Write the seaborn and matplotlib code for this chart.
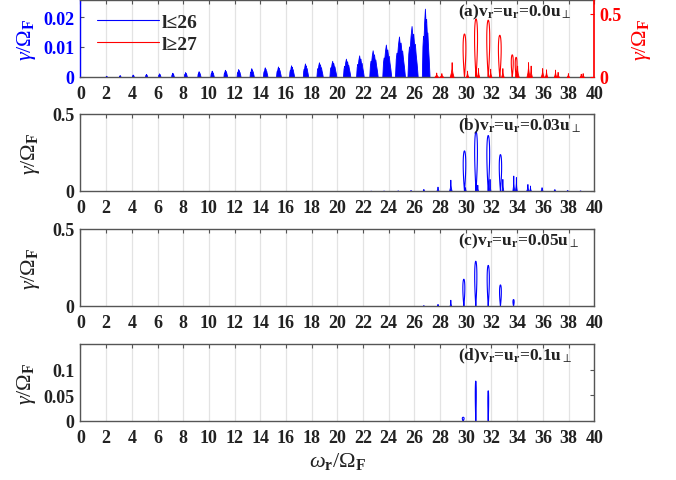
import numpy as np
import pandas as pd
import matplotlib
matplotlib.use("Agg")
import matplotlib.pyplot as plt
from matplotlib.lines import Line2D
import seaborn as sns

# ---------------- data ----------------
x_ticks = list(range(0, 41, 2))

# panel (a) blue harmonics l<=26 (left axis): peak position, peak height, cluster width
a_blue_pos = [2.0, 3.05, 4.07, 5.1, 6.12, 7.15, 8.15, 9.2, 10.22, 11.25, 12.28, 13.3,
              14.35, 15.38, 16.4, 17.48, 18.57, 19.6, 20.67, 21.7, 22.75, 23.78, 24.8, 25.78, 26.82]
a_blue_peak = [0.0004, 0.0006, 0.0008, 0.0010, 0.0012, 0.0014, 0.0016, 0.0019, 0.0021, 0.0024,
               0.0026, 0.0029, 0.0032, 0.0035, 0.0039, 0.0045, 0.0049, 0.0054, 0.0061, 0.0072,
               0.0089, 0.0108, 0.0135, 0.0170, 0.0228]
a_blue_width = [0.12, 0.14, 0.16, 0.18, 0.20, 0.22, 0.24, 0.26, 0.28, 0.30, 0.32, 0.34,
                0.36, 0.38, 0.40, 0.42, 0.50, 0.55, 0.58, 0.60, 0.66, 0.70, 0.78, 0.80, 0.60]

# panel (a) red harmonics l>=27 (right axis): loops and filled spikes
a_red_loop_pos = [29.9, 30.8, 31.75, 32.65, 33.62, 33.92]
a_red_loop_h = [0.34, 0.46, 0.45, 0.33, 0.175, 0.155]
a_red_loop_w = [0.28, 0.30, 0.30, 0.28, 0.20, 0.18]
a_red_spk_pos = [27.7, 28.1, 28.9, 30.1, 30.95, 31.9, 32.85, 34.0, 34.85, 35.05,
                 35.95, 36.25, 36.95, 37.15, 37.95, 38.95, 39.1]
a_red_spk_h = [0.035, 0.03, 0.117, 0.05, 0.07, 0.065, 0.07, 0.09, 0.117, 0.09,
               0.07, 0.06, 0.058, 0.04, 0.03, 0.025, 0.03]
a_red_spk_w = [0.3, 0.3, 0.3, 0.2, 0.2, 0.2, 0.2, 0.25, 0.25, 0.2,
               0.25, 0.2, 0.2, 0.2, 0.2, 0.2, 0.2]

# panel (b)
b_loop_pos = [29.9, 30.8, 31.75, 32.7]
b_loop_h = [0.26, 0.385, 0.36, 0.236]
b_loop_w = [0.26, 0.28, 0.28, 0.24]
b_spk_pos = [22.6, 23.6, 24.7, 25.7, 26.7, 27.8, 28.8, 29.95, 30.9, 31.85, 32.85,
             33.7, 33.9, 34.8, 35.0, 35.9, 36.9, 37.9, 38.9]
b_spk_h = [0.002, 0.003, 0.004, 0.006, 0.013, 0.028, 0.073, 0.024, 0.04, 0.078, 0.078,
           0.10, 0.09, 0.045, 0.035, 0.024, 0.012, 0.006, 0.004]
b_spk_w = [0.15, 0.15, 0.15, 0.15, 0.18, 0.2, 0.2, 0.12, 0.12, 0.15, 0.15,
           0.15, 0.15, 0.2, 0.15, 0.2, 0.2, 0.2, 0.2]

# panel (c)
c_loop_pos = [29.85, 30.78, 31.75, 32.7, 33.72]
c_loop_h = [0.173, 0.29, 0.263, 0.136, 0.041]
c_loop_w = [0.20, 0.22, 0.22, 0.18, 0.12]
c_spk_pos = [26.7, 27.8, 28.8]
c_spk_h = [0.005, 0.013, 0.04]
c_spk_w = [0.12, 0.14, 0.14]

# panel (d)
d_loop_pos = [29.8, 30.78, 31.75]
d_loop_h = [0.007, 0.078, 0.059]
d_loop_w = [0.18, 0.10, 0.08]

titles = [r"(a)v$_\mathbf{r}$=u$_\mathbf{r}$=0.0u$_\perp$",
          r"(b)v$_\mathbf{r}$=u$_\mathbf{r}$=0.03u$_\perp$",
          r"(c)v$_\mathbf{r}$=u$_\mathbf{r}$=0.05u$_\perp$",
          r"(d)v$_\mathbf{r}$=u$_\mathbf{r}$=0.1u$_\perp$"]
legend_labels = ["l≤26", "l≥27"]

# shape templates (styling of a single harmonic)
clu_dx = [0, 0.08, 0.15, 0.22, 0.30, 0.40, 0.48, 0.56, 0.64, 0.72, 0.80, 0.90, 1.0]
clu_h = [0, 0.45, 0.60, 0.55, 0.80, 1.00, 0.80, 0.85, 0.65, 0.65, 0.45, 0.25, 0]
spk_dx = [0, 0.3, 0.45, 0.5, 0.55, 0.7, 1.0]
spk_h = [0, 0.3, 0.6, 1.0, 0.6, 0.3, 0]

# ---------------- style ----------------
sns.set_theme(style="white")
plt.rcParams["font.family"] = ["Liberation Serif", "DejaVu Serif"]
plt.rcParams["mathtext.fontset"] = "custom"
plt.rcParams["mathtext.rm"] = "Liberation Serif"
plt.rcParams["mathtext.it"] = "Liberation Serif:italic"
plt.rcParams["mathtext.bf"] = "Liberation Serif:bold"

BLUE = "#0000ff"
RED = "#ff0000"
SPINE = "#555555"
TXT = "#222222"
TICK_FS = 13

fig = plt.figure(figsize=(6.76, 4.81), dpi=100)
L, W, H = 0.119, 0.760, 0.160
bottoms = [0.838, 0.601, 0.362, 0.123]
axes = [fig.add_axes([L, b, W, H]) for b in bottoms]


def loops_df(pos, h, w):
    t = np.linspace(0, 2 * np.pi, 80)
    rows = []
    for i, (c, hh, ww) in enumerate(zip(pos, h, w)):
        xs = c + 0.5 * ww * np.sin(t) * np.sqrt((1 - np.cos(t)) / 2)
        ys = hh * (1 - np.cos(t)) / 2
        rows.append(pd.DataFrame({"x": xs, "y": ys, "id": i}))
    return pd.concat(rows, ignore_index=True)


def spikes(ax, pos, h, w, dx, hf, start_frac, color):
    for c, hh, ww in zip(pos, h, w):
        xs = np.array([c - start_frac * ww + d * ww for d in dx])
        ys = np.array([hh * f for f in hf])
        ax.fill_between(xs, 0, ys, color=color, lw=0.6, edgecolor=color)


def style_axis(ax, ylim, yticks, ylabels, color=TXT):
    ax.set_xlim(0, 40)
    ax.set_ylim(*ylim)
    ax.set_xticks(x_ticks)
    ax.set_xticklabels([str(v) for v in x_ticks], fontsize=TICK_FS, fontweight="bold")
    ax.set_yticks(yticks)
    ax.set_yticklabels(ylabels, fontsize=TICK_FS, fontweight="bold")
    ax.grid(axis="x", color="#e3e3e3", lw=0.9)
    ax.grid(axis="y", visible=False)
    ax.set_axisbelow(True)
    ax.tick_params(direction="in", length=3, width=0.8, top=True, right=True,
                   colors=SPINE, pad=4.5)
    ax.tick_params(axis="x", pad=6)
    for lab in ax.get_xticklabels():
        lab.set_color(TXT)
    for lab in ax.get_yticklabels():
        lab.set_color(color)
    for s in ax.spines.values():
        s.set_color(SPINE)
        s.set_linewidth(1.0)


ylab = r"$\gamma/\Omega_\mathbf{F}$"
YLAB_FS = 16

# ---- panel (a)
ax = axes[0]
style_axis(ax, (0, 0.0257), [0, 0.01, 0.02], ["0", "0.01", "0.02"], color=BLUE)
ax.tick_params(axis="y", right=False)
spikes(ax, a_blue_pos, a_blue_peak, a_blue_width, clu_dx, clu_h, 0.40, BLUE)
ax.spines["left"].set_color(BLUE)
ax.spines["right"].set_visible(False)
ax2 = ax.twinx()
dfa = loops_df(a_red_loop_pos, a_red_loop_h, a_red_loop_w)
sns.lineplot(data=dfa, x="x", y="y", units="id", estimator=None, sort=False,
             color=RED, lw=0.8, ax=ax2)
spikes(ax2, a_red_spk_pos, a_red_spk_h, a_red_spk_w, spk_dx, spk_h, 0.5, RED)
ax2.set_xlim(0, 40)
ax2.set_ylim(0, 0.61)
ax2.set_yticks([0, 0.5])
ax2.set_yticklabels(["0", "0.5"], fontsize=TICK_FS, fontweight="bold")
ax2.tick_params(direction="in", length=3, width=0.8, colors=RED, pad=4)
for lab in ax2.get_yticklabels():
    lab.set_color(RED)
for s in ax2.spines.values():
    s.set_visible(False)
ax2.spines["right"].set_visible(True)
ax2.spines["right"].set_color(RED)
ax2.set_xlabel("")
ax.set_xlabel("")
ax.set_ylabel(ylab, fontsize=YLAB_FS, color=BLUE)
ax.yaxis.set_label_coords(-0.082, 0.5)
ax2.set_ylabel(ylab, fontsize=YLAB_FS, color=RED, rotation=90)
ax2.yaxis.set_label_coords(1.07, 0.5)
handles = [Line2D([0], [0], color=BLUE, lw=0.8), Line2D([0], [0], color=RED, lw=0.8)]
leg = ax2.legend(handles, legend_labels, loc="upper left", bbox_to_anchor=(0.005, 1.0),
                 frameon=False, prop={"weight": "bold", "size": 14}, handlelength=3.2,
                 labelspacing=0.2, handletextpad=0.15, borderaxespad=0.3)
ax2.text(0.735, 0.97, titles[0], transform=ax2.transAxes, ha="left", va="top",
         fontsize=12.5, fontweight="bold", color=TXT)

# ---- panel (b)
ax = axes[1]
style_axis(ax, (0, 0.5), [0, 0.5], ["0", "0.5"])
dfb = loops_df(b_loop_pos, b_loop_h, b_loop_w)
sns.lineplot(data=dfb, x="x", y="y", units="id", estimator=None, sort=False,
             color=BLUE, lw=0.8, ax=ax)
spikes(ax, b_spk_pos, b_spk_h, b_spk_w, spk_dx, spk_h, 0.5, BLUE)

# ---- panel (c)
ax = axes[2]
style_axis(ax, (0, 0.5), [0, 0.5], ["0", "0.5"])
dfc = loops_df(c_loop_pos, c_loop_h, c_loop_w)
sns.lineplot(data=dfc, x="x", y="y", units="id", estimator=None, sort=False,
             color=BLUE, lw=0.8, ax=ax)
spikes(ax, c_spk_pos, c_spk_h, c_spk_w, spk_dx, spk_h, 0.5, BLUE)

# ---- panel (d)
ax = axes[3]
style_axis(ax, (0, 0.151), [0, 0.05, 0.1], ["0", "0.05", "0.1"])
dfd = loops_df(d_loop_pos, d_loop_h, d_loop_w)
sns.lineplot(data=dfd, x="x", y="y", units="id", estimator=None, sort=False,
             color=BLUE, lw=0.8, ax=ax)

for i, ax in enumerate(axes[1:], start=1):
    ax.set_xlabel("")
    ax.set_ylabel(ylab, fontsize=YLAB_FS, color=TXT)
    ax.yaxis.set_label_coords(-0.074 if i < 3 else -0.082, 0.5)
    ax.text(0.735, 0.97, titles[i], transform=ax.transAxes, ha="left", va="top",
            fontsize=12.5, fontweight="bold", color=TXT)

axes[3].set_xlabel(r"$\omega_\mathbf{r}/\Omega_\mathbf{F}$", fontsize=16, labelpad=3, color=TXT)

fig.savefig("out.png", dpi=100)
